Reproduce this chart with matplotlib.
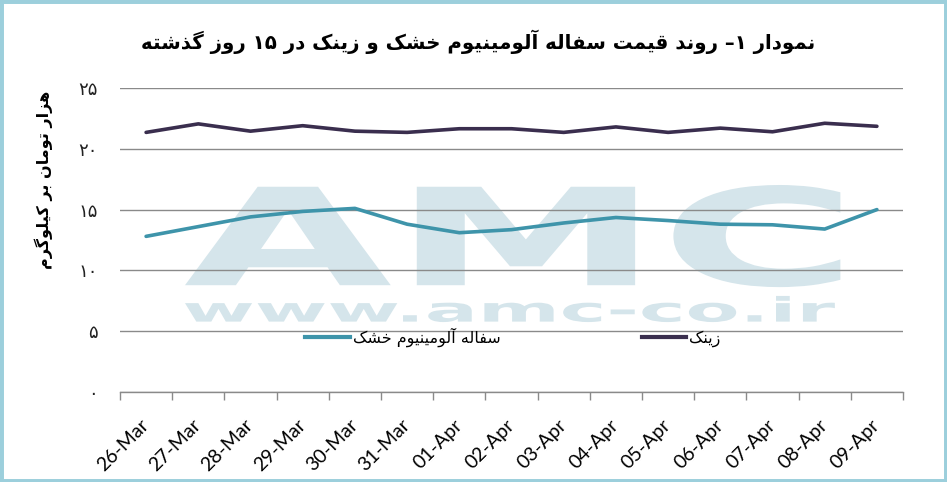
import matplotlib
matplotlib.use("Agg")
import matplotlib.pyplot as plt
from matplotlib.patches import PathPatch, Rectangle
from matplotlib.textpath import TextPath
from matplotlib.font_manager import FontProperties
from matplotlib.lines import Line2D
from matplotlib.transforms import Affine2D

# data (thousand toman per kg)
dates = ["26-Mar", "27-Mar", "28-Mar", "29-Mar", "30-Mar", "31-Mar", "01-Apr", "02-Apr",
         "03-Apr", "04-Apr", "05-Apr", "06-Apr", "07-Apr", "08-Apr", "09-Apr"]
aluminium = [12.8, 13.6, 14.4, 14.85, 15.1, 13.8, 13.1, 13.35, 13.9, 14.35, 14.1, 13.8, 13.75, 13.4, 15.0]
zinc = [21.35, 22.05, 21.45, 21.9, 21.45, 21.35, 21.65, 21.65, 21.35, 21.8, 21.35, 21.7, 21.4, 22.1, 21.85]
y_ticks = [0, 5, 10, 15, 20, 25]
y_tick_labels = ["۰", "۵", "۱۰", "۱۵", "۲۰", "۲۵"]

title = "نمودار ۱– روند قیمت سفاله آلومینیوم خشک و زینک در ۱۵ روز گذشته"
y_label = "هزار تومان بر کیلوگرم"
label_al = "سفاله آلومینیوم خشک"
label_zn = "زینک"

# --- minimal persian shaping (matplotlib has no text shaping) ---
FORMS = {
    "ا": ("\uFE8D", "\uFE8E"), "آ": ("\uFE81", "\uFE82"),
    "ب": ("\uFE8F", "\uFE90", "\uFE91", "\uFE92"),
    "ت": ("\uFE95", "\uFE96", "\uFE97", "\uFE98"),
    "خ": ("\uFEA5", "\uFEA6", "\uFEA7", "\uFEA8"),
    "د": ("\uFEA9", "\uFEAA"), "ذ": ("\uFEAB", "\uFEAC"),
    "ر": ("\uFEAD", "\uFEAE"), "ز": ("\uFEAF", "\uFEB0"),
    "س": ("\uFEB1", "\uFEB2", "\uFEB3", "\uFEB4"),
    "ش": ("\uFEB5", "\uFEB6", "\uFEB7", "\uFEB8"),
    "ف": ("\uFED1", "\uFED2", "\uFED3", "\uFED4"),
    "ق": ("\uFED5", "\uFED6", "\uFED7", "\uFED8"),
    "ل": ("\uFEDD", "\uFEDE", "\uFEDF", "\uFEE0"),
    "م": ("\uFEE1", "\uFEE2", "\uFEE3", "\uFEE4"),
    "ن": ("\uFEE5", "\uFEE6", "\uFEE7", "\uFEE8"),
    "ه": ("\uFEE9", "\uFEEA", "\uFEEB", "\uFEEC"),
    "و": ("\uFEED", "\uFEEE"),
    "ی": ("\uFBFC", "\uFBFD", "\uFBFE", "\uFBFF"),
    "ک": ("\uFB8E", "\uFB8F", "\uFB90", "\uFB91"),
    "گ": ("\uFB92", "\uFB93", "\uFB94", "\uFB95"),
}
DIGITS = set("0123456789۰۱۲۳۴۵۶۷۸۹")


def fa(text):
    out = []
    for i, ch in enumerate(text):
        if ch not in FORMS:
            out.append(ch)
            continue
        prev = text[i - 1] if i > 0 else ""
        nxt = text[i + 1] if i + 1 < len(text) else ""
        join_prev = prev in FORMS and len(FORMS[prev]) == 4
        join_next = len(FORMS[ch]) == 4 and nxt in FORMS
        f = FORMS[ch]
        if join_prev and join_next:
            out.append(f[3])
        elif join_prev:
            out.append(f[1])
        elif join_next:
            out.append(f[2])
        else:
            out.append(f[0])
    # visual order: reverse, but keep digit runs left to right
    runs, cur = [], ""
    for ch in out:
        if cur and ((ch in DIGITS) != (cur[-1] in DIGITS)):
            runs.append(cur)
            cur = ""
        cur += ch
    runs.append(cur)
    return "".join(r if r[0] in DIGITS else r[::-1] for r in reversed(runs))


W, H = 947, 482
fig = plt.figure(figsize=(W / 100, H / 100), dpi=100)
fig.patch.set_facecolor("white")
fig.patches.append(Rectangle((0, 0), 1, 1, transform=fig.transFigure, fill=False,
                             edgecolor="#9ccfdc", linewidth=5))

ax = fig.add_axes([120 / W, 1 - 392 / H, 783 / W, 304 / H])
x = list(range(len(dates)))

# watermark
wm_color = "#d5e5eb"


def watermark(txt, box):
    tp = TextPath((0, 0), txt, prop=FontProperties(family="DejaVu Sans", weight="bold"))
    ext = tp.get_extents()
    x0, y0, x1, y1 = box
    tr = (Affine2D().translate(-ext.x0, -ext.y0)
          .scale((x1 - x0) / ext.width, (y1 - y0) / ext.height)
          .translate(x0, y0) + ax.transAxes)
    ax.add_patch(PathPatch(tp, transform=tr, facecolor=wm_color, edgecolor="none",
                           zorder=0.1, clip_on=False))


watermark("AMC", (0.083, 0.345, 0.92, 0.681))
watermark("www.amc-co.ir", (0.083, 0.23, 0.913, 0.316))

ax.plot(x, aluminium, color="#3e94aa", linewidth=2.6, solid_capstyle="round", zorder=3)
ax.plot(x, zinc, color="#3a2e4e", linewidth=2.6, solid_capstyle="round", zorder=3)

ax.set_xlim(-0.5, len(dates) - 0.5)
ax.set_ylim(0, 25)
ax.set_yticks(y_ticks)
ax.set_yticklabels(y_tick_labels, fontsize=13, family="DejaVu Sans", color="#222222")
ax.tick_params(axis="y", length=0, pad=16)
ax.set_axisbelow(True)
ax.yaxis.grid(True, color="#8a8a8a", linewidth=1.0)

ax.set_xticks(x)
ax.set_xticklabels(dates, rotation=45, ha="right", va="center", rotation_mode="anchor",
                   fontsize=14, family="Lato")
ax.tick_params(axis="x", length=0, pad=22)
ax.set_xticks([i - 0.5 for i in range(len(dates) + 1)], minor=True)
ax.tick_params(axis="x", which="minor", length=6, color="#8a8a8a", width=1.0)

for s in ["top", "left", "right"]:
    ax.spines[s].set_visible(False)
ax.spines["bottom"].set_color("#8a8a8a")
ax.spines["bottom"].set_linewidth(1.0)
ax.patch.set_alpha(0)

handles = [Line2D([], [], color="#3e94aa", linewidth=3),
           Line2D([], [], color="#3a2e4e", linewidth=3)]
ax.legend(handles, [fa(label_al), fa(label_zn)], ncol=2, frameon=False,
          loc="center", bbox_to_anchor=(0.502, 0.18), fontsize=11.5,
          handlelength=2.8, handletextpad=0.2, columnspacing=8.8)

fig.text(478 / W, 1 - 42 / H, fa(title), ha="center", va="center",
         fontsize=14.2, fontweight="bold", family="DejaVu Sans")
fig.text(44 / W, 1 - 180 / H, fa(y_label), ha="center", va="center", rotation=90,
         fontsize=11.5, fontweight="bold", family="DejaVu Sans")

fig.savefig("out.png", dpi=100)
